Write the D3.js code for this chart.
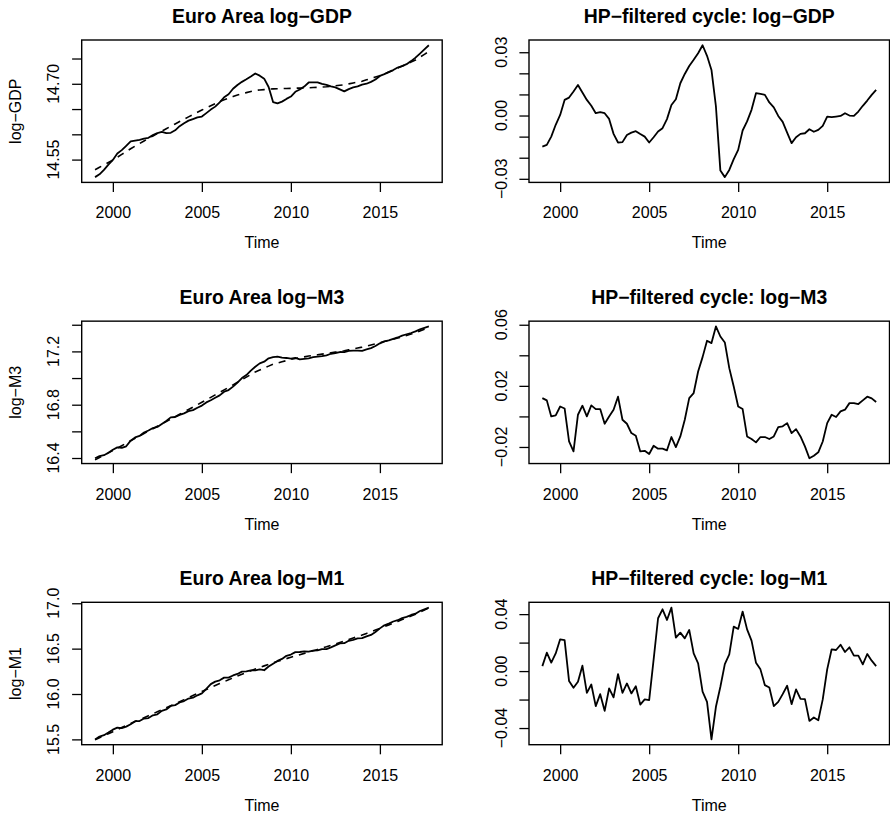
<!DOCTYPE html>
<html>
<head>
<meta charset="utf-8">
<script src="https://cdn.jsdelivr.net/npm/d3@7"></script>
<style>
  body { margin: 0; background: #fff; }
  text { font-family: "Liberation Sans", Arial, Helvetica, sans-serif; fill: #000; }
</style>
</head>
<body>
<div id="my_dataviz"></div>
<script>
// Quarterly series, 1999Q1 - 2017Q4 (ts start=c(1999,1), frequency=4)
var startYear = 1999, freq = 4;

// log-GDP, its HP trend and the HP cycle
var gdpLevel = [
  14.5153, 14.5209, 14.5295, 14.5399, 14.5493, 14.5620, 14.5688, 14.5773,
  14.5860, 14.5875, 14.5892, 14.5915, 14.5931, 14.5984, 14.6026, 14.6047,
  14.6023, 14.6030, 14.6079, 14.6161, 14.6219, 14.6271, 14.6302, 14.6335,
  14.6352, 14.6420, 14.6489, 14.6548, 14.6633, 14.6733, 14.6792, 14.6901,
  14.6977, 14.7038, 14.7089, 14.7143, 14.7203, 14.7161, 14.7101, 14.6936,
  14.6639, 14.6611, 14.6647, 14.6701, 14.6747, 14.6842, 14.6887, 14.6945,
  14.7026, 14.7028, 14.7028, 14.6997, 14.6979, 14.6948, 14.6930, 14.6889,
  14.6849, 14.6895, 14.6928, 14.6949, 14.6985, 14.7001, 14.7037, 14.7084,
  14.7155, 14.7190, 14.7230, 14.7271, 14.7321, 14.7350, 14.7388, 14.7449,
  14.7516, 14.7598, 14.7681, 14.7762
];
var gdpTrend = [
  14.5300, 14.5348, 14.5395, 14.5443, 14.5490, 14.5546, 14.5603, 14.5659,
  14.5715, 14.5766, 14.5818, 14.5869, 14.5920, 14.5968, 14.6015, 14.6063,
  14.6110, 14.6158, 14.6205, 14.6253, 14.6300, 14.6345, 14.6390, 14.6435,
  14.6480, 14.6523, 14.6565, 14.6608, 14.6650, 14.6683, 14.6715, 14.6748,
  14.6780, 14.6803, 14.6825, 14.6848, 14.6870, 14.6878, 14.6885, 14.6893,
  14.6900, 14.6903, 14.6905, 14.6908, 14.6910, 14.6913, 14.6915, 14.6918,
  14.6920, 14.6925, 14.6930, 14.6935, 14.6940, 14.6950, 14.6960, 14.6970,
  14.6980, 14.6998, 14.7015, 14.7033, 14.7050, 14.7078, 14.7105, 14.7133,
  14.7160, 14.7198, 14.7235, 14.7273, 14.7310, 14.7350, 14.7390, 14.7430,
  14.7470, 14.7527, 14.7583, 14.7640
];
var gdpCycle = [
  -0.0147, -0.0139, -0.0100, -0.0044, 0.0003, 0.0074, 0.0085, 0.0114,
  0.0145, 0.0109, 0.0074, 0.0046, 0.0011, 0.0016, 0.0011, -0.0016,
  -0.0087, -0.0128, -0.0126, -0.0092, -0.0081, -0.0074, -0.0088, -0.0100,
  -0.0128, -0.0103, -0.0076, -0.0060, -0.0017, 0.0050, 0.0077, 0.0153,
  0.0197, 0.0235, 0.0264, 0.0295, 0.0333, 0.0283, 0.0216, 0.0043,
  -0.0261, -0.0292, -0.0258, -0.0207, -0.0163, -0.0071, -0.0028, 0.0027,
  0.0106, 0.0103, 0.0098, 0.0062, 0.0039, -0.0002, -0.0030, -0.0081,
  -0.0131, -0.0103, -0.0087, -0.0084, -0.0065, -0.0077, -0.0068, -0.0049,
  -0.0005, -0.0008, -0.0005, -0.0002, 0.0011, 0.0000, -0.0002, 0.0019,
  0.0046, 0.0071, 0.0098, 0.0122
];

// log-M3, its HP trend and the HP cycle
var m3Level = [
  16.3980, 16.4140, 16.4210, 16.4392, 16.4625, 16.4795, 16.4761, 16.4879,
  16.5301, 16.5543, 16.5655, 16.5910, 16.6068, 16.6248, 16.6332, 16.6560,
  16.6784, 16.7049, 16.7078, 16.7232, 16.7351, 16.7514, 16.7591, 16.7775,
  16.7934, 16.8173, 16.8339, 16.8524, 16.8698, 16.8975, 16.9099, 16.9359,
  16.9658, 16.9995, 17.0223, 17.0559, 17.0848, 17.1100, 17.1230, 17.1484,
  17.1563, 17.1614, 17.1536, 17.1506, 17.1465, 17.1511, 17.1394, 17.1440,
  17.1480, 17.1563, 17.1610, 17.1645, 17.1709, 17.1823, 17.1880, 17.1954,
  17.1941, 17.2035, 17.2054, 17.2057, 17.2046, 17.2146, 17.2250, 17.2404,
  17.2606, 17.2749, 17.2821, 17.2946, 17.3044, 17.3187, 17.3287, 17.3381,
  17.3505, 17.3656, 17.3771, 17.3874
];
var m3Trend = [
  16.3860, 16.4035, 16.4210, 16.4385, 16.4560, 16.4743, 16.4925, 16.5108,
  16.5290, 16.5473, 16.5655, 16.5838, 16.6020, 16.6200, 16.6380, 16.6560,
  16.6740, 16.6920, 16.7100, 16.7280, 16.7460, 16.7640, 16.7820, 16.8000,
  16.8180, 16.8365, 16.8550, 16.8735, 16.8920, 16.9110, 16.9300, 16.9490,
  16.9680, 16.9875, 17.0070, 17.0265, 17.0460, 17.0605, 17.0750, 17.0895,
  17.1040, 17.1130, 17.1220, 17.1310, 17.1400, 17.1463, 17.1525, 17.1588,
  17.1650, 17.1698, 17.1745, 17.1793, 17.1840, 17.1893, 17.1945, 17.1998,
  17.2050, 17.2118, 17.2185, 17.2253, 17.2320, 17.2403, 17.2485, 17.2568,
  17.2650, 17.2738, 17.2825, 17.2913, 17.3000, 17.3100, 17.3200, 17.3300,
  17.3400, 17.3527, 17.3653, 17.3780
];
var m3Cycle = [
  0.0120, 0.0105, 0.0000, 0.0007, 0.0065, 0.0052, -0.0164, -0.0229,
  0.0011, 0.0070, 0.0000, 0.0072, 0.0048, 0.0048, -0.0048, 0.0000,
  0.0044, 0.0129, -0.0022, -0.0048, -0.0109, -0.0126, -0.0229, -0.0225,
  -0.0246, -0.0192, -0.0211, -0.0211, -0.0222, -0.0135, -0.0201, -0.0131,
  -0.0022, 0.0120, 0.0153, 0.0294, 0.0388, 0.0495, 0.0480, 0.0589,
  0.0523, 0.0484, 0.0316, 0.0196, 0.0065, 0.0048, -0.0131, -0.0148,
  -0.0170, -0.0135, -0.0135, -0.0148, -0.0131, -0.0070, -0.0065, -0.0044,
  -0.0109, -0.0083, -0.0131, -0.0196, -0.0274, -0.0257, -0.0235, -0.0164,
  -0.0044, 0.0011, -0.0004, 0.0033, 0.0044, 0.0087, 0.0087, 0.0081,
  0.0105, 0.0129, 0.0118, 0.0094
];

// log-M1, its HP trend and the HP cycle
var m1Level = [
  15.4995, 15.5312, 15.5464, 15.5752, 15.6073, 15.6293, 15.6230, 15.6408,
  15.6675, 15.7001, 15.7022, 15.7294, 15.7354, 15.7658, 15.7761, 15.8138,
  15.8295, 15.8684, 15.8777, 15.9068, 15.9223, 15.9499, 15.9595, 15.9856,
  16.0076, 16.0578, 16.1086, 16.1367, 16.1509, 16.1804, 16.1800, 16.2043,
  16.2210, 16.2462, 16.2489, 16.2612, 16.2605, 16.2709, 16.2620, 16.3024,
  16.3340, 16.3649, 16.3867, 16.4212, 16.4346, 16.4611, 16.4628, 16.4692,
  16.4679, 16.4777, 16.4811, 16.4940, 16.4954, 16.5142, 16.5353, 16.5570,
  16.5598, 16.5869, 16.5970, 16.6136, 16.6150, 16.6354, 16.6515, 16.6841,
  16.7232, 16.7568, 16.7758, 16.7990, 16.8134, 16.8367, 16.8508, 16.8708,
  16.8847, 16.9150, 16.9333, 16.9525
];
var m1Trend = [
  15.4960, 15.5183, 15.5405, 15.5628, 15.5850, 15.6075, 15.6300, 15.6525,
  15.6750, 15.6963, 15.7175, 15.7388, 15.7600, 15.7820, 15.8040, 15.8260,
  15.8480, 15.8705, 15.8930, 15.9155, 15.9380, 15.9605, 15.9830, 16.0055,
  16.0280, 16.0498, 16.0715, 16.0933, 16.1150, 16.1358, 16.1565, 16.1773,
  16.1980, 16.2173, 16.2365, 16.2558, 16.2750, 16.2925, 16.3100, 16.3275,
  16.3450, 16.3600, 16.3750, 16.3900, 16.4050, 16.4193, 16.4335, 16.4478,
  16.4620, 16.4765, 16.4910, 16.5055, 16.5200, 16.5358, 16.5515, 16.5673,
  16.5830, 16.5998, 16.6165, 16.6333, 16.6500, 16.6680, 16.6860, 16.7040,
  16.7220, 16.7415, 16.7610, 16.7805, 16.8000, 16.8200, 16.8400, 16.8600,
  16.8800, 16.9030, 16.9260, 16.9490
];
var m1Cycle = [
  0.0035, 0.0129, 0.0059, 0.0124, 0.0223, 0.0218, -0.0070, -0.0117,
  -0.0075, 0.0038, -0.0153, -0.0094, -0.0246, -0.0162, -0.0279, -0.0122,
  -0.0185, -0.0021, -0.0153, -0.0087, -0.0157, -0.0106, -0.0235, -0.0199,
  -0.0204, 0.0080, 0.0371, 0.0434, 0.0359, 0.0446, 0.0235, 0.0270,
  0.0230, 0.0289, 0.0124, 0.0054, -0.0145, -0.0216, -0.0480, -0.0251,
  -0.0110, 0.0049, 0.0117, 0.0312, 0.0296, 0.0418, 0.0293, 0.0214,
  0.0059, 0.0012, -0.0099, -0.0115, -0.0246, -0.0216, -0.0162, -0.0103,
  -0.0232, -0.0129, -0.0195, -0.0197, -0.0350, -0.0326, -0.0345, -0.0199,
  0.0012, 0.0153, 0.0148, 0.0185, 0.0134, 0.0167, 0.0108, 0.0108,
  0.0047, 0.0120, 0.0073, 0.0035
];

// Tick values (and which of them R managed to label)
var xTicks = [2000, 2005, 2010, 2015];
var gdpTicks = [14.55, 14.60, 14.65, 14.70, 14.75], gdpLabels = [14.55, 14.70];
var gdpCycTicks = [-0.03, -0.02, -0.01, 0, 0.01, 0.02, 0.03], gdpCycLabels = [-0.03, 0, 0.03];
var m3Ticks = [16.4, 16.6, 16.8, 17.0, 17.2, 17.4], m3Labels = [16.4, 16.8, 17.2];
var m3CycTicks = [-0.02, 0, 0.02, 0.04, 0.06], m3CycLabels = [-0.02, 0.02, 0.06];
var m1Ticks = [15.5, 16.0, 16.5, 17.0], m1Labels = [15.5, 16.0, 16.5, 17.0];
var m1CycTicks = [-0.04, -0.02, 0, 0.02, 0.04], m1CycLabels = [-0.04, 0, 0.04];

// Figure layout, par(mfrow=c(3,2))
var width = 890, height = 815;
var cellW = 447.3, cellH = 281.15;
var margin = {top: 40, left: 81.7};
var plotW = 360.5, plotH = 142.4;
var tickLen = 9.6;

var svg = d3.select("#my_dataviz")
  .append("svg")
    .attr("width", width)
    .attr("height", height);

var panels = [
  {row: 0, col: 0, title: "Euro Area log\u2212GDP", ylab: "log\u2212GDP",
   main: gdpLevel, dashed: gdpTrend, ticks: gdpTicks, labels: gdpLabels, fmt: ".2f"},
  {row: 0, col: 1, title: "HP\u2212filtered cycle: log\u2212GDP", ylab: "",
   main: gdpCycle, dashed: null, ticks: gdpCycTicks, labels: gdpCycLabels, fmt: ".2f"},
  {row: 1, col: 0, title: "Euro Area log\u2212M3", ylab: "log\u2212M3",
   main: m3Level, dashed: m3Trend, ticks: m3Ticks, labels: m3Labels, fmt: ".1f"},
  {row: 1, col: 1, title: "HP\u2212filtered cycle: log\u2212M3", ylab: "",
   main: m3Cycle, dashed: null, ticks: m3CycTicks, labels: m3CycLabels, fmt: ".2f"},
  {row: 2, col: 0, title: "Euro Area log\u2212M1", ylab: "log\u2212M1",
   main: m1Level, dashed: m1Trend, ticks: m1Ticks, labels: m1Labels, fmt: ".1f"},
  {row: 2, col: 1, title: "HP\u2212filtered cycle: log\u2212M1", ylab: "",
   main: m1Cycle, dashed: null, ticks: m1CycTicks, labels: m1CycLabels, fmt: ".2f"}
];

// R style range: data extent padded by 4% each side
function padded(ext) {
  var r = ext[1] - ext[0];
  return [ext[0] - 0.04 * r, ext[1] + 0.04 * r];
}

//--- draw one panel ---//
function drawPanel(p) {
  var g = svg.append("g")
    .attr("transform", "translate(" + (margin.left + p.col * cellW) + "," + (margin.top + p.row * cellH) + ")");

  var n = p.main.length;
  var x = d3.scaleLinear()
    .domain(padded([startYear, startYear + (n - 1) / freq]))
    .range([0, plotW]);
  var y = d3.scaleLinear()
    .domain(padded(d3.extent(p.main)))
    .range([plotH, 0]);

  var line = d3.line()
    .x(function(d, i) { return x(startYear + i / freq); })
    .y(function(d) { return y(d); });

  // trend first (dashed), then the series
  if (p.dashed) {
    g.append("path")
      .datum(p.dashed)
      .attr("d", line)
      .attr("fill", "none")
      .attr("stroke", "#000")
      .attr("stroke-width", 1.6)
      .attr("stroke-dasharray", "7,6");
  }
  g.append("path")
    .datum(p.main)
    .attr("d", line)
    .attr("fill", "none")
    .attr("stroke", "#000")
    .attr("stroke-width", 1.8)
    .attr("stroke-linejoin", "round");

  // X axis
  var xAxis = g.append("g")
    .attr("transform", "translate(0," + plotH + ")")
    .call(d3.axisBottom(x).tickValues(xTicks).tickSize(tickLen).tickPadding(15).tickFormat(d3.format("d")));
  xAxis.select(".domain").remove();
  xAxis.selectAll("line").attr("stroke", "#000").attr("stroke-width", 1.3);
  xAxis.selectAll("text").attr("font-size", "16px").attr("font-family", null).attr("fill", "#000");

  // Y axis ticks (labels drawn rotated, like R's las=0)
  var yAxis = g.append("g")
    .call(d3.axisLeft(y).tickValues(p.ticks).tickSize(tickLen).tickFormat(""));
  yAxis.select(".domain").remove();
  yAxis.selectAll("line").attr("stroke", "#000").attr("stroke-width", 1.3);

  var fmt = d3.format(p.fmt);
  g.selectAll("ylabels")
    .data(p.labels)
    .enter()
    .append("text")
      .attr("transform", function(d) { return "translate(-22.4," + y(d) + ") rotate(-90)"; })
      .attr("text-anchor", "middle")
      .style("font-size", "16px")
      .text(function(d) { return fmt(d); });

  // Box
  g.append("rect")
    .attr("width", plotW)
    .attr("height", plotH)
    .attr("fill", "none")
    .attr("stroke", "#000")
    .attr("stroke-width", 1.4);

  // Title and axis labels
  g.append("text")
    .attr("x", plotW / 2)
    .attr("y", -17.5)
    .attr("text-anchor", "middle")
    .style("font-size", "19.4px")
    .style("font-weight", "bold")
    .text(p.title);
  g.append("text")
    .attr("x", plotW / 2)
    .attr("y", plotH + 66)
    .attr("text-anchor", "middle")
    .style("font-size", "16px")
    .text("Time");
  if (p.ylab) {
    g.append("text")
      .attr("transform", "translate(-61," + (plotH / 2) + ") rotate(-90)")
      .attr("text-anchor", "middle")
      .style("font-size", "16px")
      .text(p.ylab);
  }
}

panels.forEach(drawPanel);
</script>
</body>
</html>
